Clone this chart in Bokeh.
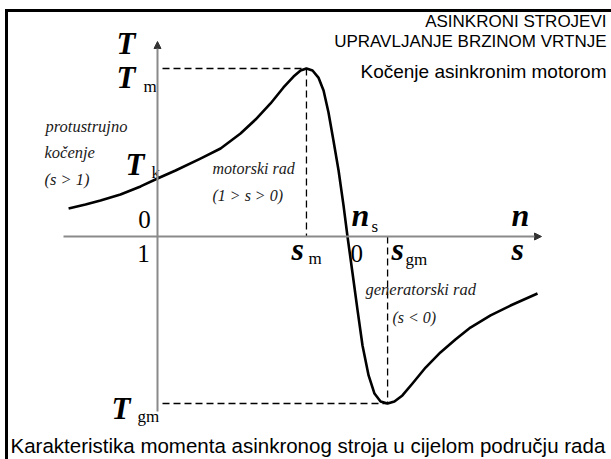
from bokeh.plotting import figure
from bokeh.models import Range1d, Arrow, NormalHead
from bokeh.core.properties import value
from bokeh.embed import file_html
from bokeh.resources import INLINE

# Torque-speed characteristic of an induction machine.
# speed as n / n_s (s = 1 - n / n_s), torque as T / T_m
speed = [-0.468, -0.379, -0.300, -0.195, -0.089, 0.000, 0.095, 0.226, 0.332,
         0.437, 0.516, 0.595, 0.663, 0.716, 0.753, 0.784, 0.816, 0.847, 0.874,
         0.900, 0.926, 0.953, 0.979, 1.000, 1.026, 1.053, 1.079, 1.111, 1.142,
         1.174, 1.211, 1.247, 1.289, 1.342, 1.411, 1.489, 1.568, 1.647, 1.753,
         1.858, 2.000]
torque = [0.167, 0.190, 0.214, 0.250, 0.298, 0.345, 0.393, 0.464, 0.524,
          0.613, 0.696, 0.792, 0.887, 0.952, 0.988, 1.000, 0.988, 0.946, 0.869,
          0.738, 0.571, 0.393, 0.185, 0.000, -0.214, -0.440, -0.649, -0.827,
          -0.935, -0.982, -0.994, -0.982, -0.946, -0.875, -0.780, -0.690,
          -0.613, -0.542, -0.470, -0.411, -0.339]

# characteristic points
n_m, T_m = 0.784, 1.000      # breakdown (motor), s_m = 0.216
n_gm, T_gm = 1.211, -0.994   # breakdown (generator), s_gm = -0.211
T_k = 0.345                  # starting torque at s = 1

W, H = 611, 459
# screen layout: n = 0 at x = 157 px, 190 px per n_s; T = 0 at y = 236 px, 168 px per T_m
X0, SX = 157, 190
Y0, SY = 236, 168


def xd(px):
    return (px - X0) / SX


def yd(py):
    return (Y0 - py) / SY


p = figure(width=W, height=H, x_range=Range1d(xd(0), xd(W)),
           y_range=Range1d(yd(H), yd(0)), x_axis_type=None, y_axis_type=None,
           output_backend="svg", toolbar_location=None, min_border=0)
p.grid.visible = False
p.outline_line_color = None
p.background_fill_color = "white"
p.border_fill_color = "white"

# slide frame (left and top edges)
frame = dict(line_color="black", line_width=3, line_cap="square")
p.line([xd(6), xd(6)], [yd(H + 20), yd(10)], **frame)
p.line([xd(6), xd(W + 20)], [yd(10), yd(10)], **frame)

AX = "#8a8a8a"
# axes with arrow heads
p.add_layout(Arrow(x_start=xd(63), y_start=0, x_end=xd(541), y_end=0,
                   line_color=AX, line_width=2,
                   end=NormalHead(size=7, fill_color="#333333", line_color="#333333")))
p.add_layout(Arrow(x_start=0, y_start=yd(411), x_end=0, y_end=yd(41),
                   line_color=AX, line_width=2,
                   end=NormalHead(size=7, fill_color="#333333", line_color="#333333")))

# guide lines to the breakdown points
dash = dict(line_color="black", line_width=1.3, line_dash="7 4")
p.line([xd(162), n_m], [T_m, T_m], **dash)
p.line([n_m, n_m], [T_m, 0], **dash)
p.line([xd(162), n_gm], [T_gm, T_gm], **dash)
p.line([n_gm, n_gm], [0, T_gm], **dash)

# characteristic
p.line(speed, torque, line_color="black", line_width=2.6, line_join="round")

SERIF = "Liberation Serif"
SANS = "Liberation Sans"


def txt(x, y, s, size, font=SERIF, style="normal", align="left", color="black"):
    # y is the baseline in screen pixels; shift for the renderer's baseline placement
    p.text(x=[xd(x)], y=[yd(y - 0.38 * size)], text=[s], text_font=value(font),
           text_font_size=f"{size}px", text_font_style=style, text_align=align,
           text_baseline="alphabetic", text_color=color)


BI = "bold italic"
# symbols
txt(116, 55, "T", 31, style=BI)
txt(116, 89, "T", 31, style=BI)
txt(143, 92, "m", 17)
txt(125, 176, "T", 31, style=BI)
txt(151, 178, "k", 17)
txt(111, 420, "T", 31, style=BI)
txt(137, 422, "gm", 17)
txt(144, 228, "0", 25, align="center")
txt(143, 262, "1", 25, align="center")
txt(291, 261, "s", 32, style=BI)
txt(308, 264, "m", 17)
txt(351, 227, "n", 32, style=BI)
txt(371, 232, "s", 17)
txt(350, 262, "0", 25)
txt(391, 261, "s", 32, style=BI)
txt(405, 265, "gm", 17)
txt(511, 227, "n", 32, style=BI)
txt(511, 261, "s", 32, style=BI)

# operating regions
LC = "#1a1a1a"
txt(45, 132, "protustrujno", 16.5, style="italic", color=LC)
txt(44, 158, "kočenje", 16.5, style="italic", color=LC)
txt(44, 185, "(s > 1)", 16.5, style="italic", color=LC)
txt(212, 174, "motorski rad", 16, style="italic", color=LC)
txt(212, 201, "(1 > s > 0)", 16, style="italic", color=LC)
txt(365, 295, "generatorski rad", 16.5, style="italic", color=LC)
txt(392, 323, "(s < 0)", 16, style="italic", color=LC)

# headings and caption
txt(606, 27, "ASINKRONI STROJEVI", 17, font=SANS, align="right")
txt(606, 47, "UPRAVLJANJE BRZINOM VRTNJE", 17, font=SANS, align="right")
txt(606, 78, "Kočenje asinkronim motorom", 19, font=SANS, align="right")
txt(10, 453, "Karakteristika momenta asinkronog stroja u cijelom području rada", 20.5, font=SANS)

open("out.html", "w").write(file_html(p, INLINE))
